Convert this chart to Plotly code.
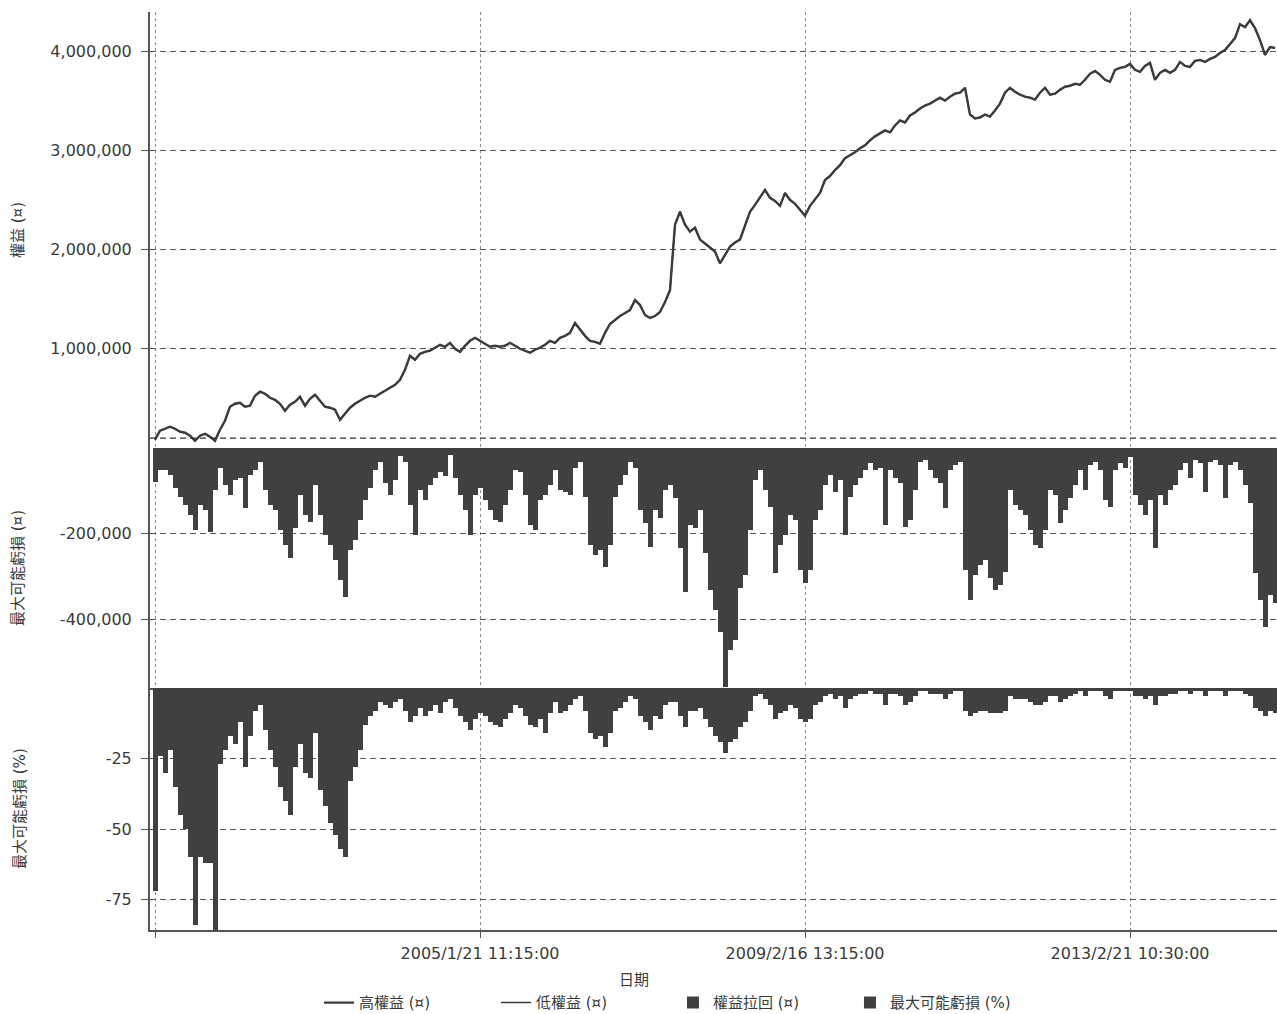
import plotly.graph_objects as go
from plotly.subplots import make_subplots

# Sample positions along the time axis (one per sampled bar)
SAMPLE_INDEX = list(range(225))

# Date ticks placed on sample positions
TICK_POSITIONS = [0, 65, 130, 195]
TICK_LABELS = ["", "2005/1/21 11:15:00", "2009/2/16 13:15:00", "2013/2/21 10:30:00"]

INITIAL_CAPITAL = 100000

# Equity per sampled bar
EQUITY = [
    84000, 174000, 194000, 214000, 194000, 164000, 154000, 124000, 73000, 124000,
    144000, 114000, 73000, 184000, 275000, 416000, 446000, 456000, 416000, 426000,
    527000, 567000, 547000, 506000, 486000, 446000, 376000, 436000, 466000, 516000,
    426000, 496000, 537000, 476000, 416000, 406000, 386000, 285000, 345000, 406000,
    446000, 476000, 506000, 527000, 516000, 547000, 577000, 607000, 637000, 688000,
    788000, 929000, 889000, 949000, 969000, 980000, 1010000, 1040000, 1020000, 1060000,
    1000000, 969000, 1030000, 1080000, 1110000, 1080000, 1050000, 1020000, 1030000, 1020000,
    1030000, 1060000, 1030000, 1000000, 980000, 960000, 990000, 1010000, 1040000, 1080000,
    1060000, 1110000, 1130000, 1160000, 1260000, 1190000, 1130000, 1080000, 1070000, 1050000,
    1160000, 1250000, 1290000, 1330000, 1360000, 1390000, 1490000, 1440000, 1340000, 1310000,
    1330000, 1370000, 1470000, 1590000, 2250000, 2380000, 2250000, 2180000, 2220000, 2100000,
    2060000, 2020000, 1980000, 1860000, 1940000, 2030000, 2070000, 2100000, 2240000, 2380000,
    2450000, 2520000, 2600000, 2520000, 2490000, 2440000, 2570000, 2500000, 2460000, 2400000,
    2340000, 2440000, 2500000, 2570000, 2700000, 2740000, 2800000, 2850000, 2920000, 2950000,
    2980000, 3020000, 3050000, 3100000, 3140000, 3170000, 3200000, 3180000, 3250000, 3300000,
    3280000, 3350000, 3380000, 3420000, 3450000, 3470000, 3500000, 3530000, 3500000, 3540000,
    3570000, 3580000, 3630000, 3360000, 3320000, 3330000, 3360000, 3340000, 3400000, 3470000,
    3580000, 3630000, 3590000, 3560000, 3540000, 3530000, 3510000, 3580000, 3630000, 3560000,
    3570000, 3610000, 3640000, 3650000, 3670000, 3660000, 3710000, 3770000, 3800000, 3760000,
    3710000, 3690000, 3810000, 3830000, 3840000, 3870000, 3810000, 3790000, 3850000, 3880000,
    3710000, 3780000, 3810000, 3780000, 3810000, 3890000, 3850000, 3840000, 3900000, 3910000,
    3890000, 3920000, 3940000, 3980000, 4010000, 4070000, 4130000, 4270000, 4240000, 4310000,
    4230000, 4110000, 3960000, 4040000, 4030000,
]

# Equity pull-back from the running peak
DRAWDOWN = [
    -80000, -51000, -51000, -63000, -94000, -115000, -133000, -157000, -192000, -133000,
    -145000, -196000, -98000, -47000, -87000, -110000, -75000, -70000, -140000, -63000,
    -51000, -33000, -98000, -133000, -145000, -192000, -227000, -257000, -187000, -110000,
    -157000, -173000, -87000, -157000, -203000, -227000, -262000, -309000, -348000, -239000,
    -215000, -168000, -122000, -94000, -51000, -33000, -82000, -110000, -75000, -19000,
    -33000, -133000, -203000, -98000, -122000, -87000, -70000, -56000, -65000, -16000,
    -70000, -110000, -145000, -203000, -110000, -94000, -122000, -145000, -168000, -173000,
    -133000, -98000, -51000, -56000, -110000, -180000, -192000, -122000, -110000, -87000,
    -51000, -98000, -103000, -110000, -47000, -33000, -115000, -227000, -250000, -239000,
    -278000, -227000, -115000, -87000, -63000, -33000, -47000, -145000, -175000, -232000,
    -145000, -164000, -98000, -87000, -117000, -234000, -337000, -180000, -187000, -145000,
    -246000, -332000, -379000, -430000, -559000, -472000, -449000, -327000, -297000, -192000,
    -75000, -51000, -98000, -138000, -292000, -227000, -203000, -157000, -168000, -285000,
    -316000, -285000, -168000, -145000, -87000, -63000, -103000, -75000, -203000, -115000,
    -87000, -70000, -51000, -35000, -51000, -47000, -180000, -51000, -70000, -82000,
    -185000, -168000, -98000, -33000, -28000, -51000, -70000, -82000, -140000, -51000,
    -40000, -33000, -285000, -356000, -297000, -274000, -262000, -304000, -332000, -320000,
    -290000, -98000, -133000, -145000, -157000, -192000, -227000, -234000, -192000, -98000,
    -110000, -175000, -145000, -117000, -87000, -51000, -98000, -40000, -33000, -51000,
    -122000, -138000, -51000, -35000, -47000, -21000, -110000, -133000, -157000, -122000,
    -234000, -110000, -133000, -98000, -87000, -51000, -35000, -70000, -28000, -35000,
    -103000, -33000, -28000, -40000, -117000, -40000, -33000, -51000, -87000, -129000,
    -292000, -356000, -419000, -344000, -363000,
]

# Largest possible loss in percent
MAX_LOSS_PCT = [
    -72, -24, -30, -22, -35, -45, -50, -60, -84, -60,
    -62, -62, -86, -27, -22, -17, -20, -12, -28, -17,
    -8, -6, -15, -22, -28, -35, -40, -45, -28, -20,
    -30, -32, -16, -36, -42, -48, -52, -57, -60, -33,
    -28, -22, -13, -10, -8, -5, -6, -7, -5, -4,
    -8, -12, -10, -7, -10, -8, -6, -9, -5, -4,
    -7, -10, -12, -15, -11, -9, -10, -12, -13, -14,
    -11, -9, -6, -7, -10, -13, -14, -11, -16, -9,
    -5, -9, -8, -6, -4, -3, -8, -16, -18, -17,
    -21, -16, -8, -7, -5, -3, -4, -10, -12, -15,
    -10, -11, -6, -5, -5, -10, -14, -8, -8, -7,
    -11, -14, -17, -19, -23, -19, -18, -14, -12, -8,
    -3, -2, -4, -6, -11, -9, -8, -6, -7, -11,
    -12, -11, -6, -5, -3, -2, -4, -3, -7, -4,
    -3, -2, -2, -1, -2, -2, -6, -2, -2, -3,
    -6, -5, -3, -1, -1, -2, -2, -2, -4, -2,
    -1, -1, -8, -10, -9, -8, -8, -9, -9, -9,
    -8, -3, -4, -4, -4, -5, -6, -6, -5, -3,
    -3, -5, -4, -3, -2, -1, -3, -1, -1, -1,
    -3, -4, -1, -1, -1, -1, -3, -3, -4, -3,
    -6, -3, -3, -2, -2, -1, -1, -2, -1, -1,
    -3, -1, -1, -1, -3, -1, -1, -1, -2, -3,
    -7, -8, -10, -8, -9,
]

FONT = "DejaVu Sans, Noto Sans CJK TC, sans-serif"
TEXT_COLOR = "#3a3a3a"
DARK = "#404040"

fig = make_subplots(rows=3, cols=1, shared_xaxes=True, vertical_spacing=0)

fig.add_trace(go.Scatter(x=SAMPLE_INDEX, y=EQUITY, mode="lines", name="高權益 (¤)",
                         line=dict(color="#3c3c3c", width=2.4)), row=1, col=1)
fig.add_trace(go.Scatter(x=SAMPLE_INDEX, y=EQUITY, mode="lines", name="低權益 (¤)",
                         line=dict(color="#3c3c3c", width=1.5)), row=1, col=1)
fig.add_trace(go.Bar(x=SAMPLE_INDEX, y=DRAWDOWN, name="權益拉回 (¤)", width=1,
                     marker=dict(color=DARK, line=dict(width=0))), row=2, col=1)
fig.add_trace(go.Bar(x=SAMPLE_INDEX, y=MAX_LOSS_PCT, name="最大可能虧損 (%)", width=1,
                     marker=dict(color=DARK, line=dict(width=0))), row=3, col=1)

# starting capital reference line
fig.add_hline(y=INITIAL_CAPITAL, row=1, col=1,
              line=dict(color="#333333", width=1.2, dash="6px,4px"))

D1 = [0.52505, 1.0]
D2 = [0.26362, 0.52505]
D3 = [0.0, 0.26362]

xcommon = dict(range=[-1, 224.4], tickvals=TICK_POSITIONS, showgrid=True,
               gridcolor="#8a8a8a", griddash="3px,3px", gridwidth=1, zeroline=False)
ycommon = dict(showline=True, linecolor="#555555", linewidth=2, ticks="outside",
               ticklen=7, tickcolor="#555555", showgrid=True, gridcolor="#555555",
               griddash="6px,4px", gridwidth=1, zeroline=False, ticklabelstandoff=6,
               tickfont=dict(family=FONT, size=16, color=TEXT_COLOR))

fig.update_layout(
    xaxis=dict(**xcommon, showticklabels=False, ticks="", showline=False),
    xaxis2=dict(**xcommon, showticklabels=False, ticks="", showline=True,
                linecolor="#555555", linewidth=1.5),
    xaxis3=dict(**xcommon, ticktext=TICK_LABELS, showline=True, linecolor="#555555",
                linewidth=1.5, ticks="outside", ticklen=6, tickcolor="#555555",
                ticklabelstandoff=2,
                tickfont=dict(family=FONT, size=16, color=TEXT_COLOR)),
    yaxis=dict(**ycommon, domain=D1, range=[0, 4393000],
               tickvals=[1000000, 2000000, 3000000, 4000000],
               ticktext=["1,000,000", "2,000,000", "3,000,000", "4,000,000"]),
    yaxis2=dict(**ycommon, domain=D2, range=[-561000, 0],
                tickvals=[-400000, -200000], ticktext=["-400,000", "-200,000"]),
    yaxis3=dict(**ycommon, domain=D3, range=[-85.8, 0],
                tickvals=[-75, -50, -25], ticktext=["-75", "-50", "-25"]),
    bargap=0,
    width=1277, height=1014,
    margin=dict(l=150, r=0, t=12, b=84),
    paper_bgcolor="white", plot_bgcolor="white",
    font=dict(family=FONT, color=TEXT_COLOR),
    showlegend=True,
    legend=dict(orientation="h", xref="container", yref="container",
                x=0.527, xanchor="center", y=0.011, yanchor="middle",
                font=dict(family=FONT, size=15, color=TEXT_COLOR),
                itemwidth=30, entrywidth=132, tracegroupgap=0),
)

title_font = dict(family=FONT, size=15, color=TEXT_COLOR)
for text, ymid, xpx in [("權益 (¤)", sum(D1) / 2, 18),
                        ("最大可能虧損 (¤)", sum(D2) / 2, 18),
                        ("最大可能虧損 (%)", sum(D3) / 2, 20)]:
    fig.add_annotation(text=text, xref="paper", yref="paper", x=(xpx - 150) / 1127, y=ymid,
                       textangle=-90, showarrow=False, xanchor="center", yanchor="middle",
                       font=title_font)

fig.add_annotation(text="日期", xref="paper", yref="paper", x=(634 - 150) / 1127,
                   y=(930 - 980) / 918, showarrow=False, xanchor="center", yanchor="middle",
                   font=title_font)

fig.write_html("out.html")
